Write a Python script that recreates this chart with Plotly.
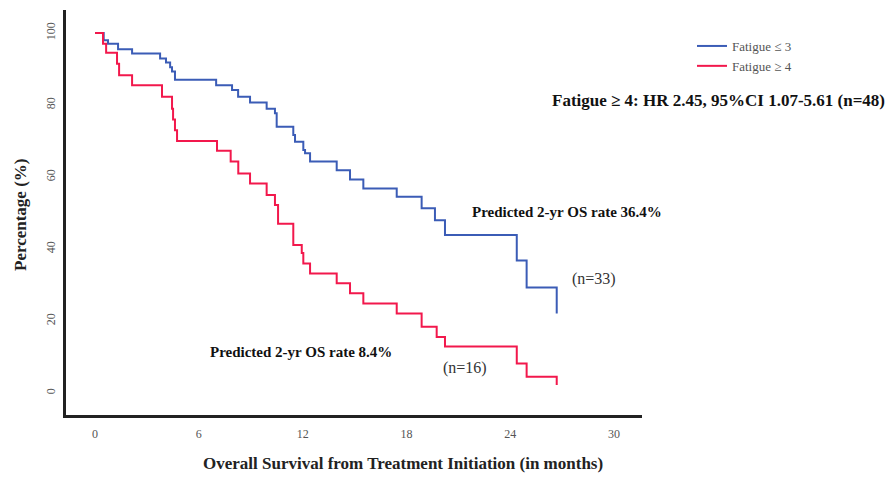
import plotly.graph_objects as go

# Kaplan-Meier style step data
blue_months = [0, 0.5, 0.75, 1.33, 2.14, 3.76, 4.1, 4.34, 4.45, 4.62, 7.0, 7.92, 8.27, 8.96,
               9.92, 10.4, 10.5, 11.46, 11.56, 12.04, 12.14, 12.43, 13.97, 14.74, 15.51,
               17.44, 18.88, 19.65, 20.23, 24.38, 24.95, 26.69]
blue_pct = [100, 98, 97, 95.5, 94.3, 92.9, 91.8, 90.5, 89.3, 87, 85.5, 84.2, 82.3, 80.7,
            79, 77.7, 74, 71.7, 69.8, 67.5, 66.6, 64.3, 61.9, 59.3, 56.8,
            54.5, 51.3, 48, 43.9, 36.8, 29.3, 22.1]

red_months = [0, 0.46, 0.64, 1.27, 1.39, 2.14, 3.87, 4.45, 4.51, 4.62, 4.74, 7.05, 7.84, 8.28,
              8.96, 9.92, 10.4, 10.58, 11.46, 11.95, 12.04, 12.43, 13.97, 14.74, 15.51,
              17.44, 18.88, 19.75, 20.23, 24.38, 24.95, 26.69]
red_pct = [100, 97, 94.5, 91.5, 88.3, 85.5, 82.3, 79, 76, 73, 70, 67.3, 64.3, 61,
           58.2, 55, 52.2, 47, 41.1, 38.9, 36, 33.2, 30.5, 27.7, 24.9,
           22.1, 18.4, 15.6, 12.9, 8.2, 4.5, 2.2]

x_ticks = [0, 6, 12, 18, 24, 30]
y_ticks = [0, 20, 40, 60, 80, 100]

FONT = "Liberation Serif"
BLUE = "#3b5cb6"
RED = "#f2184c"

# page has an 8px body margin; work in figure coordinates
OFF = 8
W, H = 894 - OFF, 477 - OFF
PL, PR, PT, PB = 66 - OFF, 642 - OFF, 10 - OFF, 415 - OFF
PW, PH = PR - PL, PB - PT


def px(xr):
    return (xr - OFF - PL) / PW


def py(yr):
    return (PB - (yr - OFF)) / PH


fig = go.Figure()
fig.add_trace(go.Scatter(x=blue_months, y=blue_pct, mode="lines", line_shape="hv",
                         line=dict(color=BLUE, width=2), name="Fatigue ≤ 3"))
fig.add_trace(go.Scatter(x=red_months, y=red_pct, mode="lines", line_shape="hv",
                         line=dict(color=RED, width=2), name="Fatigue ≥ 4"))

fig.update_layout(
    width=W, height=H,
    margin=dict(l=PL, r=W - PR, t=PT, b=H - PB),
    paper_bgcolor="white", plot_bgcolor="white",
    font=dict(family=FONT, color="#555", size=12),
    showlegend=True,
    legend=dict(x=px(692), y=py(31), xanchor="left", yanchor="top",
                font=dict(family=FONT, size=13, color="#555"),
                bgcolor="rgba(0,0,0,0)", itemwidth=30, tracegroupgap=0),
    xaxis=dict(range=[-1.68, 31.62], tickvals=x_ticks, showgrid=False, zeroline=False,
               showline=True, linecolor="#222", linewidth=3, ticks="",
               ticklabelstandoff=6, tickfont=dict(family=FONT, size=12, color="#555")),
    yaxis=dict(range=[-6.1, 106.4], tickvals=y_ticks, showgrid=False, zeroline=False,
               showline=True, linecolor="#222", linewidth=3, ticks="",
               tickangle=-90, ticklabelstandoff=3,
               tickfont=dict(family=FONT, size=12, color="#555")),
)

ann = [
    dict(text="<b>Overall Survival from Treatment Initiation (in months)</b>",
         x=403, y=464, size=17, color="#222"),
    dict(text="<b>Fatigue ≥ 4: HR 2.45, 95%CI 1.07-5.61 (n=48)</b>",
         x=718, y=100, size=17, color="#111"),
    dict(text="<b>Predicted 2-yr OS rate 36.4%</b>", x=567, y=212, size=15, color="#111"),
    dict(text="(n=33)", x=594, y=279, size=16, color="#333"),
    dict(text="<b>Predicted 2-yr OS rate 8.4%</b>", x=301, y=352, size=15, color="#111"),
    dict(text="(n=16)", x=465, y=368, size=16, color="#333"),
]
for a in ann:
    fig.add_annotation(text=a["text"], xref="paper", yref="paper",
                       x=px(a["x"]), y=py(a["y"]),
                       xanchor="center", yanchor="middle", showarrow=False,
                       font=dict(family=FONT, size=a["size"], color=a["color"]))

fig.add_annotation(text="<b>Percentage (%)</b>", xref="paper", yref="paper",
                   x=px(20), y=py(215), textangle=-90,
                   xanchor="center", yanchor="middle", showarrow=False,
                   font=dict(family=FONT, size=17, color="#222"))

fig.write_html("out.html")
